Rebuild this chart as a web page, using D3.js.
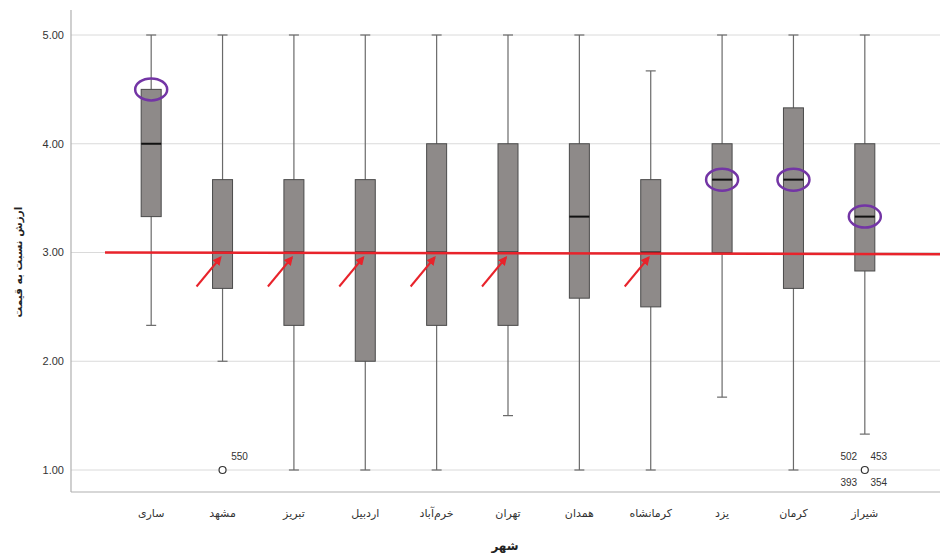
<!DOCTYPE html>
<html><head><meta charset="utf-8">
<script src="https://cdn.jsdelivr.net/npm/d3@7"></script>
<style>body{margin:0;background:#fff}svg{display:block}</style>
</head><body>
<svg id="c" width="940" height="556"></svg>
<script>
const categories = ["ساری","مشهد","تبریز","اردبیل","خرم‌آباد","تهران","همدان","کرمانشاه","یزد","کرمان","شیراز"];
const whiskerLow  = [2.33, 2.00, 1.00, 1.00, 1.00, 1.50, 1.00, 1.00, 1.67, 1.00, 1.33];
const q1          = [3.33, 2.67, 2.33, 2.00, 2.33, 2.33, 2.58, 2.50, 3.00, 2.67, 2.83];
const median      = [4.00, 3.00, 3.00, 3.00, 3.00, 3.00, 3.33, 3.00, 3.67, 3.67, 3.33];
const q3          = [4.50, 3.67, 3.67, 3.67, 4.00, 4.00, 4.00, 3.67, 4.00, 4.33, 4.00];
const whiskerHigh = [5.00, 5.00, 5.00, 5.00, 5.00, 5.00, 5.00, 4.67, 5.00, 5.00, 5.00];
const outliers = [
  {cat:"مشهد", value:1.00, above:["550"], below:[]},
  {cat:"شیراز", value:1.00, above:["502","453"], below:["393","354"]}
];
const yTicks = [1, 2, 3, 4, 5];
const yTickLabels = ["1.00","2.00","3.00","4.00","5.00"];
const referenceValue = [3.00, 2.985];
const arrowCats = ["مشهد","تبریز","اردبیل","خرم‌آباد","تهران","کرمانشاه"];
const circledMedians = ["یزد","کرمان","شیراز"];
const circledQ3 = ["ساری"];
const yTitle = "ارزش نسبت به قیمت";
const xTitle = "شهر";

const svg = d3.select("#c");
const x = d3.scaleBand().domain(categories).range([115.5, 900.5]).paddingInner(0.72).paddingOuter(0.36);
const y = d3.scaleLinear().domain([1, 5]).range([470, 35]);
const cx = c => x(c) + x.bandwidth()/2;
const bw = 20;

const axisX = 71, axisBottom = 492, right = 940;
svg.append("g").selectAll("line").data(yTicks).join("line")
  .attr("x1", axisX).attr("x2", right).attr("y1", d=>y(d)).attr("y2", d=>y(d))
  .attr("stroke", "#dadada").attr("stroke-width", 1);
svg.append("line").attr("x1", axisX).attr("x2", axisX).attr("y1", 10).attr("y2", axisBottom)
  .attr("stroke", "#b0b0b0").attr("stroke-width", 1.2);
svg.append("line").attr("x1", axisX).attr("x2", right).attr("y1", axisBottom).attr("y2", axisBottom)
  .attr("stroke", "#b0b0b0").attr("stroke-width", 1.2);
svg.append("g").selectAll("text").data(yTicks).join("text")
  .attr("x", 64).attr("y", d=>y(d)).attr("dy", "0.35em").attr("text-anchor", "end")
  .attr("font-family", "Liberation Sans, Arial, sans-serif").attr("font-size", 11).attr("fill", "#333")
  .text((d,i)=>yTickLabels[i]);
svg.append("g").selectAll("text").data(categories).join("text")
  .attr("x", d=>cx(d)).attr("y", 517).attr("text-anchor", "middle").attr("direction","rtl")
  .attr("font-family", "DejaVu Sans, sans-serif").attr("font-size", 11).attr("fill", "#333")
  .text(d=>d);
svg.append("text").attr("x", 505).attr("y", 550).attr("text-anchor","middle")
  .attr("font-family", "DejaVu Sans, sans-serif").attr("font-size", 12).attr("font-weight","bold").attr("fill","#222")
  .text(xTitle);
svg.append("text").attr("transform", "translate(22,262) rotate(-90)").attr("text-anchor","middle")
  .attr("font-family", "DejaVu Sans, sans-serif").attr("font-size", 10.5).attr("font-weight","bold").attr("fill","#222")
  .text(yTitle);

const data = categories.map((c,i)=>({c, lo:whiskerLow[i], q1:q1[i], med:median[i], q3:q3[i], hi:whiskerHigh[i]}));
const g = svg.append("g").selectAll("g").data(data).join("g");
g.append("line").attr("x1", d=>cx(d.c)).attr("x2", d=>cx(d.c)).attr("y1", d=>y(d.lo)).attr("y2", d=>y(d.hi))
  .attr("stroke", "#6a6a6a").attr("stroke-width", 1.2);
g.append("line").attr("x1", d=>cx(d.c)-5).attr("x2", d=>cx(d.c)+5).attr("y1", d=>y(d.lo)).attr("y2", d=>y(d.lo))
  .attr("stroke", "#6a6a6a").attr("stroke-width", 1.2);
g.append("line").attr("x1", d=>cx(d.c)-5).attr("x2", d=>cx(d.c)+5).attr("y1", d=>y(d.hi)).attr("y2", d=>y(d.hi))
  .attr("stroke", "#6a6a6a").attr("stroke-width", 1.2);
g.append("rect").attr("x", d=>cx(d.c)-bw/2).attr("width", bw).attr("y", d=>y(d.q3)).attr("height", d=>y(d.q1)-y(d.q3))
  .attr("fill", "#8e8a89").attr("stroke", "#4a4a4a").attr("stroke-width", 1);
g.append("line").attr("x1", d=>cx(d.c)-bw/2).attr("x2", d=>cx(d.c)+bw/2).attr("y1", d=>y(d.med)).attr("y2", d=>y(d.med))
  .attr("stroke", "#111").attr("stroke-width", 2);

const og = svg.append("g").selectAll("g").data(outliers).join("g");
og.append("circle").attr("cx", d=>cx(d.cat)).attr("cy", d=>y(d.value)).attr("r", 3.5)
  .attr("fill", "#fff").attr("stroke", "#333").attr("stroke-width", 1.2);
const lab = [];
outliers.forEach(o=>{
  const n = o.above.length;
  o.above.forEach((t,i)=>lab.push({x: n===1 ? cx(o.cat)+17 : cx(o.cat)+(i===0?-16:14), y: y(o.value)-10, t}));
  o.below.forEach((t,i)=>lab.push({x: cx(o.cat)+(i===0?-16:14), y: y(o.value)+16, t}));
});
svg.append("g").selectAll("text").data(lab).join("text")
  .attr("x", d=>d.x).attr("y", d=>d.y).attr("text-anchor","middle")
  .attr("font-family", "Liberation Sans, Arial, sans-serif").attr("font-size", 10).attr("fill","#333")
  .text(d=>d.t);

svg.append("line").attr("x1", 105).attr("x2", right).attr("y1", y(referenceValue[0])).attr("y2", y(referenceValue[1]))
  .attr("stroke", "#e8232b").attr("stroke-width", 2.5);

svg.append("defs").append("marker").attr("id","ah").attr("viewBox","0 0 10 10").attr("refX",8).attr("refY",5)
  .attr("markerWidth",4.5).attr("markerHeight",4.5).attr("orient","auto")
  .append("path").attr("d","M0,0L10,5L0,10Z").attr("fill","#e8232b");
svg.append("g").selectAll("line").data(arrowCats).join("line")
  .attr("x1", d=>cx(d)-26).attr("y1", d=>y(median[categories.indexOf(d)])+34)
  .attr("x2", d=>cx(d)-2).attr("y2", d=>y(median[categories.indexOf(d)])+5)
  .attr("stroke","#e8232b").attr("stroke-width",2).attr("marker-end","url(#ah)");

const circ = circledMedians.map(c=>({c, v:median[categories.indexOf(c)]}))
  .concat(circledQ3.map(c=>({c, v:q3[categories.indexOf(c)]})));
svg.append("g").selectAll("ellipse").data(circ).join("ellipse")
  .attr("cx", d=>cx(d.c)).attr("cy", d=>y(d.v)).attr("rx", 16).attr("ry", 11)
  .attr("fill","none").attr("stroke","#7335a5").attr("stroke-width",2.5);
</script>
</body></html>
